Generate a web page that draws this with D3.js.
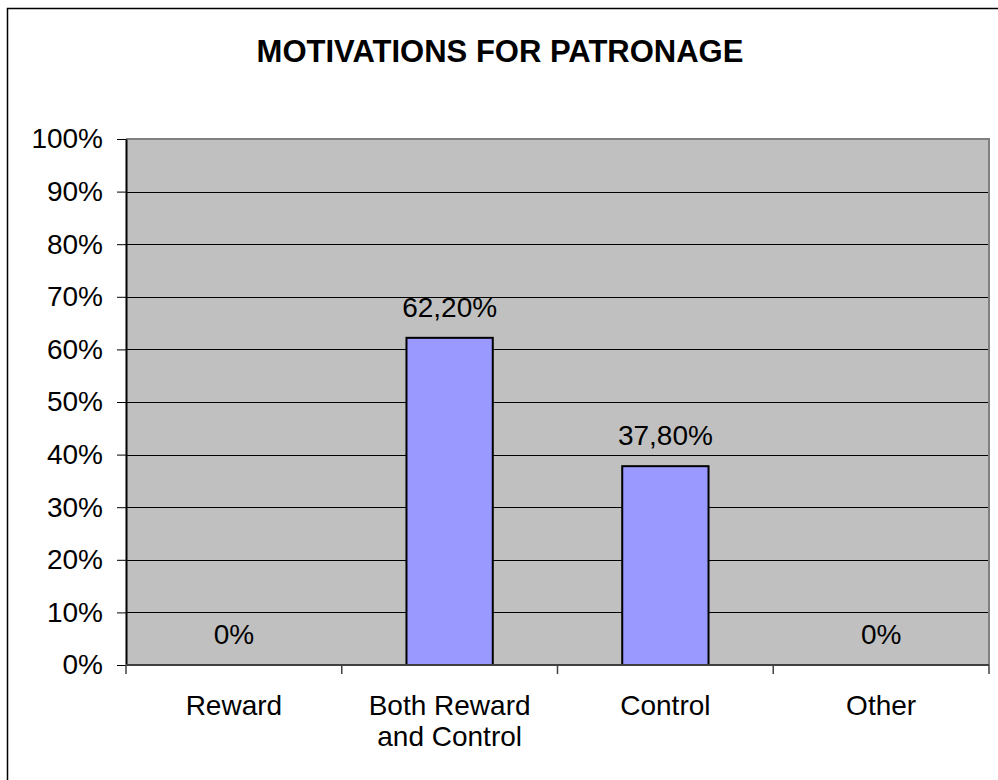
<!DOCTYPE html>
<html>
  <head>
    <meta charset="utf-8">
    <title>Motivations for patronage</title>
    <script src="https://cdn.jsdelivr.net/npm/d3@7"></script>
    <style>
      body { margin: 0; background: #fff; }
      svg text { font-family: "Liberation Sans", Arial, sans-serif; fill: #000; }
    </style>
  </head>
  <body>
    <svg id="chart" width="998" height="780"></svg>

    <script>
      // data
      var categories = ["Reward", "Both Reward\nand Control", "Control", "Other"];
      var values = [0, 0.622, 0.378, 0];
      var valueLabels = ["0%", "62,20%", "37,80%", "0%"];
      var tickValues = [0, 0.1, 0.2, 0.3, 0.4, 0.5, 0.6, 0.7, 0.8, 0.9, 1];

      var svg = d3.select("#chart");
      var plot = { left: 126, top: 139, right: 989, bottom: 665 };

      // chart frame (right and bottom fall outside the picture)
      svg.append("rect")
        .attr("x", 7.5)
        .attr("y", 8.5)
        .attr("width", 1000)
        .attr("height", 800)
        .attr("fill", "none")
        .attr("stroke", "#000")
        .attr("stroke-width", 1.5);

      svg.append("text")
        .attr("x", 500)
        .attr("y", 62)
        .attr("text-anchor", "middle")
        .style("font-size", "31px")
        .style("font-weight", "bold")
        .text("MOTIVATIONS FOR PATRONAGE");

      x = d3.scaleBand()
        .domain(categories)
        .range([plot.left, plot.right])
        .paddingInner(0)
        .paddingOuter(0);
      y = d3.scaleLinear()
        .domain([0, 1])
        .range([plot.bottom, plot.top]);

      // plot background
      svg.append("rect")
        .attr("x", plot.left)
        .attr("y", plot.top)
        .attr("width", plot.right - plot.left)
        .attr("height", plot.bottom - plot.top)
        .attr("fill", "#c0c0c0");

      // gridlines
      svg.append("g")
        .selectAll("line")
        .data(tickValues.filter(function(d) { return d > 0 && d < 1; }))
        .join("line")
          .attr("x1", plot.left)
          .attr("x2", plot.right)
          .attr("y1", function(d) { return Math.round(y(d)) + 0.5; })
          .attr("y2", function(d) { return Math.round(y(d)) + 0.5; })
          .attr("stroke", "#000")
          .attr("stroke-width", 1);

      // plot border
      svg.append("path")
        .attr("d", "M" + plot.left + "," + plot.top + "H" + plot.right + "V" + plot.bottom)
        .attr("fill", "none")
        .attr("stroke", "#808080")
        .attr("stroke-width", 2);

      // bars
      var barWidth = x.bandwidth() * 0.4;
      svg.append("g")
        .selectAll("rect")
        .data(values.map(function(v, i) { return { cat: categories[i], value: v }; })
          .filter(function(d) { return d.value > 0; }))
        .join("rect")
          .attr("x", function(d) { return x(d.cat) + (x.bandwidth() - barWidth) / 2; })
          .attr("y", function(d) { return y(d.value); })
          .attr("width", barWidth)
          .attr("height", function(d) { return y(0) - y(d.value); })
          .attr("fill", "#9999ff")
          .attr("stroke", "#000")
          .attr("stroke-width", 2);

      // value labels
      svg.append("g")
        .selectAll("text")
        .data(values)
        .join("text")
          .attr("x", function(d, i) { return x(categories[i]) + x.bandwidth() / 2; })
          .attr("y", function(d) { return y(d) - 21; })
          .attr("text-anchor", "middle")
          .style("font-size", "28px")
          .text(function(d, i) { return valueLabels[i]; });

      // y axis
      yAxis = d3.axisLeft(y)
        .tickValues(tickValues)
        .tickFormat(d3.format(".0%"))
        .tickSize(9)
        .tickPadding(14)
        .tickSizeOuter(0);
      yGroup = svg.append("g")
        .attr("transform", "translate(" + plot.left + ",0)")
        .call(yAxis);
      yGroup.select(".domain").attr("stroke", "#000").attr("stroke-width", 2);
      yGroup.selectAll(".tick line").attr("stroke", "#000");
      yGroup.selectAll(".tick text")
        .style("font-size", "28px")
        .style("font-family", "'Liberation Sans', Arial, sans-serif")
        .attr("fill", "#000");

      // x axis
      var boundaries = categories.map(function(c) { return x(c); }).concat([plot.right]);
      svg.append("g")
        .selectAll("line")
        .data(boundaries)
        .join("line")
          .attr("x1", function(d) { return d; })
          .attr("x2", function(d) { return d; })
          .attr("y1", plot.bottom)
          .attr("y2", plot.bottom + 9)
          .attr("stroke", "#404040")
          .attr("stroke-width", 1.5);
      svg.append("line")
        .attr("x1", plot.left)
        .attr("x2", plot.right)
        .attr("y1", plot.bottom)
        .attr("y2", plot.bottom)
        .attr("stroke", "#404040")
        .attr("stroke-width", 2);

      svg.append("g")
        .selectAll("text")
        .data(categories)
        .join("text")
          .attr("x", function(d) { return x(d) + x.bandwidth() / 2; })
          .attr("y", 715)
          .attr("text-anchor", "middle")
          .style("font-size", "28px")
          .each(function(d) {
            var t = d3.select(this);
            d.split("\n").forEach(function(line, i) {
              t.append("tspan")
                .attr("x", x(d) + x.bandwidth() / 2)
                .attr("dy", i === 0 ? 0 : 31)
                .text(line);
            });
          });
    </script>
  </body>
</html>
